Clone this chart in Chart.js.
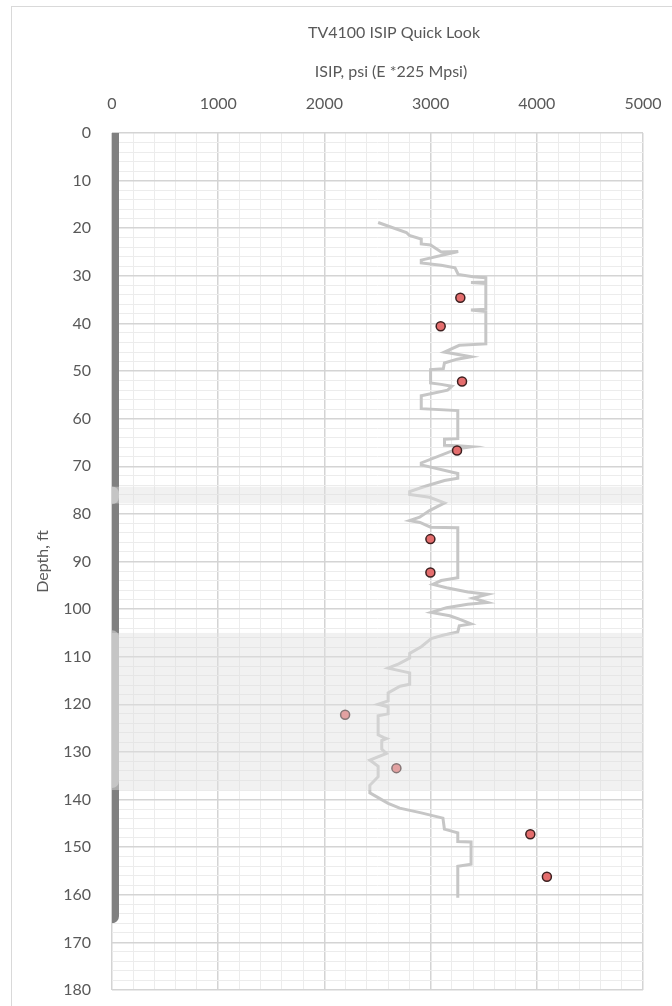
<!DOCTYPE html>
<html>
<head>
<meta charset="utf-8">
<title>TV4100 ISIP Quick Look</title>
<script src="https://cdn.jsdelivr.net/npm/chart.js@4.4.1/dist/chart.umd.min.js"></script>
<style>
html, body { margin: 0; padding: 0; background: #fff; overflow: hidden; }
#frame { position: absolute; left: 11px; top: 6px; width: 700px; height: 1100px; border: 1px solid #d9d9d9; }
#wrap { position: absolute; left: 0; top: 0; width: 672px; height: 1006px; }
</style>
</head>
<body>
<div id="frame"></div>
<div id="wrap"><canvas id="myChart" width="672" height="1006" style="width:672px;height:1006px"></canvas></div>
<script>
// ISIP tests (psi) at depth (ft)
const testDepth = [34.6, 40.6, 52.2, 66.7, 85.3, 92.3, 122.2, 133.4, 147.3, 156.2];
const testIsip  = [3280, 3095, 3296, 3249, 2998, 2998, 2195, 2678, 3939, 4095];

// E log profile (scaled to psi) vs depth
const logDepth = [18.8, 20.9, 21.5, 22.3, 23.3, 23.5, 25.0, 24.9, 26.7, 27.3, 27.8, 28.3, 29.7, 30.2, 30.4,
  31.3, 31.4, 31.6, 37.0, 37.2, 37.5, 44.3, 44.6, 46.0, 47.0, 47.5, 48.3, 49.5, 49.7, 52.5, 52.8, 53.2,
  54.0, 55.2, 57.9, 58.3, 64.2, 64.3, 65.6, 65.7, 65.9, 66.3, 69.3, 69.7, 71.5, 72.5, 73.0, 74.2, 75.3,
  75.9, 76.5, 77.7, 79.3, 80.7, 81.4, 81.8, 82.8, 82.9, 93.4, 94.0, 94.8, 95.5, 96.4, 96.9, 97.7, 98.6,
  99.0, 99.7, 100.7, 101.4, 102.1, 103.1, 103.5, 104.8, 105.5, 106.2, 107.9, 109.3, 110.3, 111.5, 112.4,
  113.4, 115.8, 116.2, 117.6, 119.3, 120.0, 120.5, 122.0, 122.4, 126.4, 127.0, 127.2, 127.6, 129.4, 130.3,
  131.7, 133.0, 135.2, 137.0, 138.6, 139.6, 140.8, 141.8, 142.8, 143.9, 146.2, 147.0, 148.8, 148.9, 153.6,
  154.0, 160.6];
const logIsip = [2506, 2772, 2800, 2912, 2912, 3000, 3100, 3260, 2912, 2912, 3100, 3230, 3260, 3400, 3520,
  3520, 3380, 3520, 3520, 3380, 3520, 3520, 3270, 3130, 3380, 3250, 3130, 3120, 3000, 3000, 3100, 3200,
  3160, 2912, 2912, 3256, 3256, 3131, 3131, 3256, 3381, 3256, 2912, 2912, 3256, 3256, 3131, 2950, 2803,
  2803, 2990, 3131, 2990, 2897, 2803, 2900, 3000, 3256, 3256, 3100, 3022, 3150, 3350, 3537, 3400, 3537,
  3350, 3150, 3006, 3180, 3270, 3381, 3270, 3256, 3116, 3006, 2912, 2803, 2803, 2700, 2600,
  2803, 2803, 2712, 2600, 2600, 2506, 2600, 2600, 2506, 2506, 2560, 2584, 2540, 2540, 2584,
  2428, 2506, 2506, 2428, 2428, 2506, 2600, 2709, 2912, 3116, 3130, 3256, 3256, 3381, 3381,
  3256, 3256];

// well interval marker and shaded zones (ft)
const wellDepth = [0, 164.5];
const zoneTop = [74.3, 105];
const zoneBottom = [77.8, 138];
const zoneMarkTop = [75.7, 105.9];
const zoneMarkBottom = [76.5, 136.1];

const xMajor = 1000, xMinor = 200;
const yMajor = 10, yMinor = 2;

const majorGrid = '#d4d4d4';
const minorGrid = '#ececec';
const textColor = '#595959';
const fontFamily = "Lato, 'Open Sans', sans-serif";

Chart.defaults.font.family = fontFamily;
Chart.defaults.font.size = 16;
Chart.defaults.color = textColor;

const zonePlugin = {
    id: 'zones',
    afterLayout(chart) {
        // chart title is centred on the whole (cropped) chart object
        const t = chart.titleBlock;
        if (t) { t.left = 12; t.right = 776; t.width = 764; }
    },
    afterDatasetsDraw(chart) {
        const {ctx, chartArea, scales} = chart;
        ctx.save();
        ctx.fillStyle = 'rgba(225,225,225,0.45)';
        for (let i = 0; i < zoneTop.length; i++) {
            const y1 = scales.y.getPixelForValue(zoneTop[i]);
            const y2 = scales.y.getPixelForValue(zoneBottom[i]);
            ctx.fillRect(chartArea.left, y1, chartArea.right - chartArea.left, y2 - y1);
        }
        ctx.restore();
    },
    afterDraw(chart) {
        // x axis title
        const ctx = chart.ctx;
        ctx.save();
        ctx.font = '16px ' + fontFamily;
        ctx.fillStyle = textColor;
        ctx.textAlign = 'center';
        ctx.textBaseline = 'middle';
        ctx.fillText('ISIP, psi (E *225 Mpsi)', 391, 72);
        ctx.restore();
    }
};

let datasets = [{
    label: 'ISIP',
    data: testIsip.map((v, i) => ({x: v, y: testDepth[i]})),
    pointRadius: 4.5,
    pointBackgroundColor: '#e46d6d',
    pointBorderColor: '#3d2020',
    pointBorderWidth: 1.5
}, {
    label: 'E log',
    data: logIsip.map((v, i) => ({x: v, y: logDepth[i]})),
    showLine: true,
    pointRadius: 0,
    borderColor: '#c6c6c6',
    borderWidth: 3
}];
for (let i = 0; i < zoneMarkTop.length; i++) {
    datasets.push({
        label: 'zone' + i,
        data: [{x: 0, y: zoneMarkTop[i]}, {x: 0, y: zoneMarkBottom[i]}],
        showLine: true, pointRadius: 0, clip: 0,
        borderColor: '#b0b0b0', borderWidth: 14, borderCapStyle: 'round'
    });
}
datasets.push({
    label: 'well',
    data: wellDepth.map(d => ({x: 0, y: d})),
    showLine: true, pointRadius: 0, clip: 0,
    borderColor: '#808080', borderWidth: 14, borderCapStyle: 'round'
});

let ctx = document.getElementById('myChart').getContext('2d');
let myChart = new Chart(ctx, {
    type: 'scatter',
    data: { datasets: datasets },
    options: {
        responsive: false,
        animation: false,
        layout: { padding: { left: 12, top: 7, right: 29, bottom: 16 } },
        plugins: {
            legend: { display: false },
            tooltip: { enabled: false },
            title: {
                display: true,
                text: 'TV4100 ISIP Quick Look',
                color: textColor,
                font: { size: 16, weight: 'normal' },
                padding: { top: 16, bottom: 10 }
            }
        },
        scales: {
            x: {
                type: 'linear',
                position: 'top',
                min: 0,
                max: 5000,
                ticks: {
                    stepSize: xMinor,
                    autoSkip: false,
                    maxRotation: 0,
                    padding: 20,
                    callback: v => (v % xMajor === 0 ? String(v) : '')
                },
                grid: {
                    drawTicks: false,
                    color: c => (c.tick && c.tick.value % xMajor === 0 ? majorGrid : minorGrid),
                    lineWidth: c => (c.tick && c.tick.value % xMajor === 0 ? 1.5 : 1)
                },
                border: { display: false },
                afterFit: s => { s.height = 80.8; s.paddingLeft = 0; s.paddingRight = 0; }
            },
            y: {
                type: 'linear',
                reverse: true,
                min: 0,
                max: 180,
                ticks: {
                    stepSize: yMinor,
                    autoSkip: false,
                    padding: 21,
                    callback: v => (v % yMajor === 0 ? String(v) : '')
                },
                grid: {
                    drawTicks: false,
                    color: c => (c.tick && c.tick.value % yMajor === 0 ? majorGrid : minorGrid),
                    lineWidth: c => (c.tick && c.tick.value % yMajor === 0 ? 1.5 : 1)
                },
                border: { display: false },
                title: { display: true, text: 'Depth, ft', padding: { top: 21, bottom: 0 } },
                afterFit: s => { s.width = 100; s.paddingTop = 0; s.paddingBottom = 0; }
            }
        }
    },
    plugins: [zonePlugin]
});
</script>
</body>
</html>
